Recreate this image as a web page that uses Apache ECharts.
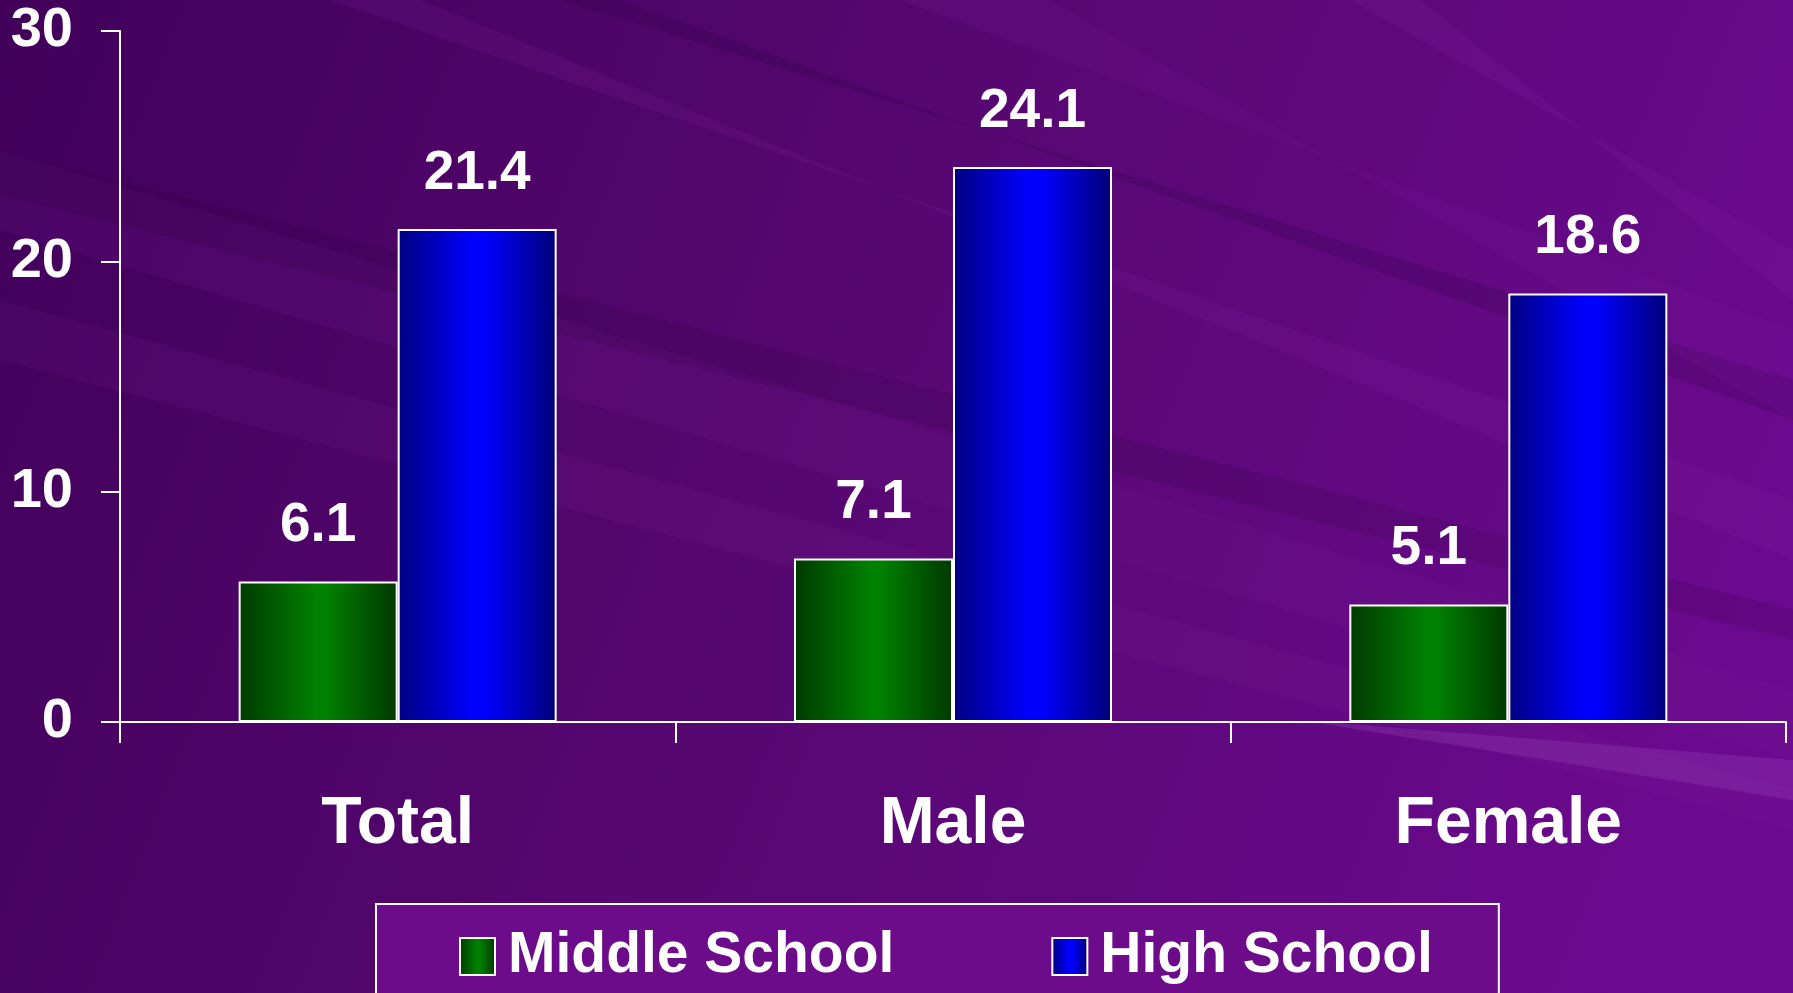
<!DOCTYPE html>
<html lang="en">
<head>
    <meta charset="UTF-8">
    <title>Middle School vs High School</title>
    <script src="https://cdn.jsdelivr.net/npm/echarts@6/dist/echarts.min.js"></script>
    <style>
        html, body { margin: 0; padding: 0; }
        #main { width: 1793px; height: 993px; }
    </style>
</head>
<body>
    <div id="main"></div>
    <script type="text/javascript">
        // data
        var categories = ['Total', 'Male', 'Female'];
        var middleSchool = [6.1, 7.1, 5.1];
        var highSchool = [21.4, 24.1, 18.6];
        var seriesNames = ['Middle School', 'High School'];
        var yMin = 0, yMax = 30, yStep = 10;

        var font = "'Liberation Sans', Arial, Helvetica, sans-serif";

        // bars are shaded left to right, dark at the edges
        function shade(dark, bright, dark2) {
            return new echarts.graphic.LinearGradient(0, 0, 1, 0, [
                { offset: 0, color: dark },
                { offset: 0.48, color: bright },
                { offset: 0.55, color: bright },
                { offset: 1, color: dark2 }
            ]);
        }

        var myChart = echarts.init(document.getElementById('main'));

        // purple streaky background
        var streaks = [
            { points: [[0, 150], [0, 230], [1793, 760], [1793, 690]], fill: 'rgba(120, 30, 150, 0.16)' },
            { points: [[0, 300], [0, 360], [1793, 830], [1793, 790]], fill: 'rgba(130, 40, 160, 0.12)' },
            { points: [[330, 0], [420, 0], [1793, 560], [1793, 500]], fill: 'rgba(140, 40, 170, 0.14)' },
            { points: [[560, 0], [620, 0], [1793, 420], [1793, 380]], fill: 'rgba(30, 0, 50, 0.15)' },
            { points: [[900, 0], [1050, 0], [1793, 420], [1793, 330]], fill: 'rgba(130, 30, 160, 0.14)' },
            { points: [[1350, 0], [1420, 0], [1793, 300], [1793, 250]], fill: 'rgba(150, 50, 180, 0.12)' },
            { points: [[1300, 720], [1793, 760], [1793, 800]], fill: 'rgba(170, 90, 200, 0.22)' },
            { points: [[0, 150], [0, 195], [1793, 640], [1793, 610]], fill: 'rgba(30, 0, 45, 0.12)' }
        ];

        var option = {
            backgroundColor: new echarts.graphic.LinearGradient(0, 0, 1, 0.7, [
                { offset: 0, color: '#41005a' },
                { offset: 0.45, color: '#55076f' },
                { offset: 1, color: '#6c0a90' }
            ]),
            textStyle: { fontFamily: font, fontWeight: 'bold', color: '#ffffff' },
            graphic: streaks.map(function (s) {
                return {
                    type: 'polygon',
                    silent: true,
                    z: -10,
                    shape: { points: s.points },
                    style: { fill: s.fill }
                };
            }),
            grid: {
                left: 120,
                right: 7,
                top: 31,
                bottom: 271,
                containLabel: false
            },
            legend: {
                data: seriesNames,
                left: 376,
                top: 904,
                orient: 'horizontal',
                itemWidth: 35,
                itemHeight: 37,
                itemGap: 157,
                padding: [24, 66, 60, 83],
                backgroundColor: '#6c0c8a',
                borderColor: '#ffffff',
                borderWidth: 2,
                borderRadius: 0,
                icon: 'rect',
                textStyle: {
                    color: '#ffffff',
                    fontFamily: font,
                    fontWeight: 'bold',
                    fontSize: 57,
                    padding: [0, 0, 0, 8]
                }
            },
            xAxis: {
                type: 'category',
                data: categories,
                axisLine: { lineStyle: { color: '#ffffff', width: 2 } },
                axisTick: { show: true, length: 21, alignWithLabel: false, lineStyle: { color: '#ffffff', width: 2 } },
                axisLabel: {
                    color: '#ffffff',
                    fontFamily: font,
                    fontWeight: 'bold',
                    fontSize: 66,
                    margin: 70
                },
                splitLine: { show: false }
            },
            yAxis: {
                type: 'value',
                min: yMin,
                max: yMax,
                interval: yStep,
                axisLine: { show: true, lineStyle: { color: '#ffffff', width: 2 } },
                axisTick: { show: true, length: 19, lineStyle: { color: '#ffffff', width: 2 } },
                axisLabel: {
                    color: '#ffffff',
                    fontFamily: font,
                    fontWeight: 'bold',
                    fontSize: 56,
                    margin: 47
                },
                splitLine: { show: false }
            },
            series: [
                {
                    name: seriesNames[0],
                    type: 'bar',
                    data: middleSchool,
                    barWidth: 159,
                    barGap: '0%',
                    itemStyle: {
                        color: shade('#003a00', '#008000', '#003800'),
                        borderColor: '#ffffff',
                        borderWidth: 2
                    },
                    label: {
                        show: true,
                        position: 'top',
                        distance: 28,
                        color: '#ffffff',
                        fontFamily: font,
                        fontWeight: 'bold',
                        fontSize: 55,
                        formatter: function (p) { return p.value.toFixed(1); }
                    }
                },
                {
                    name: seriesNames[1],
                    type: 'bar',
                    data: highSchool,
                    barWidth: 159,
                    barGap: '0%',
                    itemStyle: {
                        color: shade('#000080', '#0000ff', '#000078'),
                        borderColor: '#ffffff',
                        borderWidth: 2
                    },
                    label: {
                        show: true,
                        position: 'top',
                        distance: 28,
                        color: '#ffffff',
                        fontFamily: font,
                        fontWeight: 'bold',
                        fontSize: 55,
                        formatter: function (p) { return p.value.toFixed(1); }
                    }
                }
            ]
        };

        myChart.setOption(option);
    </script>
</body>
</html>
